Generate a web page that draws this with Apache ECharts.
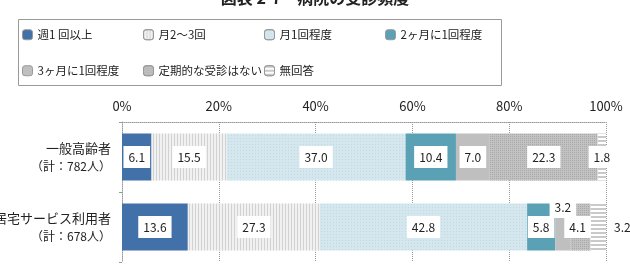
<!DOCTYPE html>
<html><head><meta charset="utf-8">
<script src="https://cdn.jsdelivr.net/npm/echarts@6/dist/echarts.min.js"></script>
<style>html,body{margin:0;padding:0;background:#fff}#c{width:630px;height:274px}</style>
</head><body><div id="c"></div>
<script>
const titleText = '図表 2-7　病院の受診頻度';
const categories = ['一般高齢者\n（計：782人）', '居宅サービス利用者\n（計：678人）'];
const seriesNames = ['週1 回以上', '月2～3回', '月1回程度', '2ヶ月に1回程度', '3ヶ月に1回程度', '定期的な受診はない', '無回答'];
const s1 = [6.1, 13.6];
const s2 = [15.5, 27.3];
const s3 = [37.0, 42.8];
const s4 = [10.4, 5.8];
const s5 = [7.0, 3.2];
const s6 = [22.3, 4.1];
const s7 = [1.8, 3.2];
const tickValues = [0, 20, 40, 60, 80, 100];

const FONT = '"Noto Sans CJK JP", "Noto Sans", sans-serif';
const colors = ['#4270a8', '#f1f1f1', '#d5e7ee', '#5ba1b6', '#bfbfbf', '#c2c2c2', '#ffffff'];
const decals = [
  null,
  {symbol: 'rect', symbolSize: 1, dashArrayX: [1, 2], dashArrayY: [4, 0], color: '#d2d2d2'},
  {symbol: 'rect', symbolSize: 1, dashArrayX: [1, 2], dashArrayY: [1, 2], color: '#c3d9e1'},
  null,
  null,
  {symbol: 'rect', symbolSize: 1, dashArrayX: [1, 1], dashArrayY: [1, 1], color: '#a9a9a9'},
  {symbol: 'rect', symbolSize: 1, dashArrayX: [4, 0], dashArrayY: [2, 2], color: '#c9c9c9'}
];
const allData = [s1, s2, s3, s4, s5, s6, s7];

const baseLabel = {
  show: true, position: 'inside', color: '#222', fontSize: 12, fontFamily: FONT,
  backgroundColor: '#fff', padding: [5, 5], formatter: p => p.value.toFixed(1)
};
const labelOverrides = {
  '4-1': {offset: [0, -20]},
  '5-1': {offset: [-3, 0]},
  '6-1': {position: 'right', distance: 3, backgroundColor: 'transparent'}
};

const series = allData.map((arr, si) => ({
  name: seriesNames[si], type: 'bar', stack: 'a', barWidth: 47,
  itemStyle: Object.assign({color: colors[si]}, decals[si] ? {decal: decals[si]} : {}),
  label: baseLabel,
  emphasis: {disabled: true},
  data: arr.map((v, ci) => {
    const o = labelOverrides[si + '-' + ci];
    return o ? {value: v, label: Object.assign({}, baseLabel, o)} : v;
  })
}));

const legendPos = [[22, 29], [143, 29], [264, 29], [385, 29], [22, 65], [143, 65], [264, 65]];
const legends = seriesNames.map((n, i) => ({
  data: [n], left: legendPos[i][0], top: legendPos[i][1], itemWidth: 10, itemHeight: 10,
  padding: 0, selectedMode: false,
  itemStyle: {borderColor: '#999', borderWidth: 1},
  textStyle: {fontSize: 11.5, color: '#222', fontFamily: FONT}
}));

const chart = echarts.init(document.getElementById('c'), null, {renderer: 'canvas'});
chart.setOption({
  animation: false,
  aria: {enabled: false},
  title: {text: titleText, left: 'center', top: -10, padding: 0,
    textStyle: {fontSize: 16, fontWeight: 'bold', color: '#222', fontFamily: FONT}},
  graphic: [{type: 'rect', left: 16, top: 17, shape: {width: 483, height: 66},
    style: {fill: 'none', stroke: '#9a9a9a', lineWidth: 1}}],
  legend: legends,
  grid: {left: 122, right: 24, top: 122, bottom: 12, containLabel: false, outerBoundsMode: 'none'},
  xAxis: {
    type: 'value', position: 'top', min: 0, max: 100, interval: 20,
    axisLabel: {formatter: v => tickValues.includes(v) ? v + '%' : '', fontSize: 13, color: '#222', margin: 9, fontFamily: FONT},
    axisLine: {show: true, lineStyle: {color: '#999', type: 'dotted'}},
    axisTick: {show: false},
    splitLine: {show: true, lineStyle: {color: '#999', type: 'dotted'}}
  },
  yAxis: {
    type: 'category', inverse: true, data: categories,
    axisLine: {show: true, lineStyle: {color: '#999', type: 'dotted'}},
    axisTick: {show: true, length: 3, lineStyle: {color: '#999'}},
    axisLabel: {
      margin: 11, fontFamily: FONT, color: '#222', align: 'right',
      formatter: v => { const [a, b] = v.split('\n'); return '{a|' + a + '}\n{b|' + b + '}'; },
      rich: {a: {fontSize: 13, lineHeight: 18, color: '#222', fontFamily: FONT, align: 'right'},
             b: {fontSize: 12, lineHeight: 18, color: '#222', fontFamily: FONT, align: 'right'}}
    }
  },
  series: series
});
</script>
</body></html>
